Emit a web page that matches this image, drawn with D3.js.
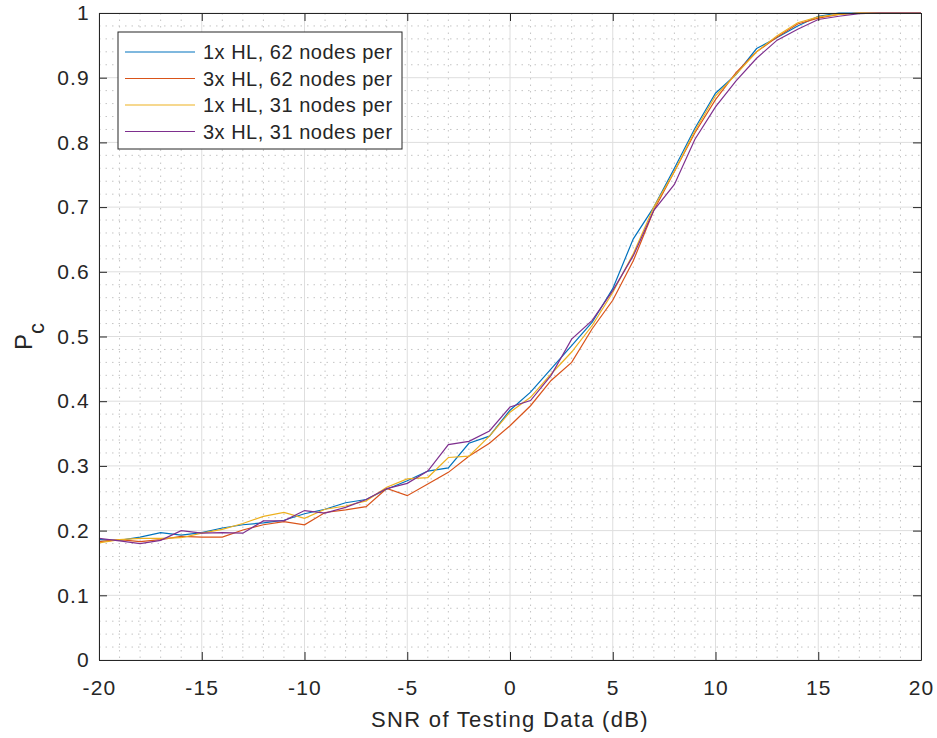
<!DOCTYPE html>
<html>
<head>
<meta charset="utf-8">
<script src="https://cdn.jsdelivr.net/npm/d3@7"></script>
<style>
  body { margin: 0; background: #fff; }
  svg { display: block; font-family: "Liberation Sans", Arial, sans-serif; }
</style>
</head>
<body>
<div id="chart"></div>
<script>
// SNR steps (dB)
const snr = d3.range(-20, 21);

const seriesNames = [
  "1x HL, 62 nodes per",
  "3x HL, 62 nodes per",
  "1x HL, 31 nodes per",
  "3x HL, 31 nodes per"
];
const seriesColors = ["#0072BD", "#D95319", "#EDB120", "#7E2F8E"];

const hl1n62 = [0.186, 0.185, 0.190, 0.197, 0.193, 0.197, 0.204, 0.209, 0.212, 0.216,
  0.226, 0.233, 0.243, 0.248, 0.264, 0.277, 0.292, 0.297, 0.335, 0.346,
  0.386, 0.414, 0.450, 0.486, 0.522, 0.574, 0.651, 0.700, 0.760, 0.822,
  0.876, 0.905, 0.945, 0.962, 0.980, 0.995, 1, 1, 1, 1, 1];
const hl3n62 = [0.183, 0.186, 0.183, 0.186, 0.191, 0.190, 0.190, 0.201, 0.209, 0.214,
  0.209, 0.228, 0.232, 0.237, 0.265, 0.254, 0.272, 0.290, 0.315, 0.335,
  0.362, 0.393, 0.432, 0.460, 0.512, 0.556, 0.617, 0.695, 0.755, 0.815,
  0.866, 0.908, 0.940, 0.963, 0.983, 0.992, 0.998, 1, 1, 1, 1];
const hl1n31 = [0.181, 0.186, 0.188, 0.188, 0.189, 0.196, 0.202, 0.211, 0.222, 0.228,
  0.219, 0.233, 0.238, 0.246, 0.267, 0.280, 0.282, 0.313, 0.315, 0.346,
  0.383, 0.406, 0.442, 0.476, 0.517, 0.568, 0.628, 0.700, 0.755, 0.818,
  0.872, 0.905, 0.940, 0.965, 0.985, 0.994, 0.998, 1, 1, 1, 1];
const hl3n31 = [0.188, 0.184, 0.180, 0.185, 0.200, 0.196, 0.197, 0.196, 0.215, 0.215,
  0.231, 0.227, 0.236, 0.248, 0.265, 0.273, 0.292, 0.333, 0.338, 0.354,
  0.391, 0.401, 0.440, 0.496, 0.525, 0.571, 0.625, 0.695, 0.735, 0.805,
  0.855, 0.895, 0.930, 0.958, 0.975, 0.990, 0.995, 0.999, 1, 1, 1];

const allSeries = [hl1n62, hl3n62, hl1n31, hl3n31];

const xTicks = d3.range(-20, 21, 5);
const yTicks = d3.range(0, 11).map(i => i / 10);

const W = 937, H = 738;
const margin = { top: 13, right: 16, bottom: 78, left: 99 };
const width = W - margin.left - margin.right,
      height = H - margin.top - margin.bottom;

const svg = d3.select("#chart").append("svg")
  .attr("width", W)
  .attr("height", H);

const g = svg.append("g")
  .attr("transform", `translate(${margin.left},${margin.top})`);

const x = d3.scaleLinear().domain([-20, 20]).range([0, width]);
const y = d3.scaleLinear().domain([0, 1]).range([height, 0]);

// minor grid (dotted)
const minorX = d3.range(-20, 21, 1).filter(v => v % 5 !== 0);
const minorY = d3.range(0, 51).filter(i => i % 5 !== 0).map(i => i * 0.02);

g.append("g").selectAll("line")
  .data(minorX)
  .enter().append("line")
  .attr("x1", d => x(d)).attr("x2", d => x(d))
  .attr("y1", 0).attr("y2", height)
  .attr("stroke", "#c4c4c4")
  .attr("stroke-width", 1)
  .attr("stroke-dasharray", "1.5,5");

g.append("g").selectAll("line")
  .data(minorY)
  .enter().append("line")
  .attr("x1", 0).attr("x2", width)
  .attr("y1", d => y(d)).attr("y2", d => y(d))
  .attr("stroke", "#c4c4c4")
  .attr("stroke-width", 1)
  .attr("stroke-dasharray", "1.5,5");

// major grid
g.append("g").selectAll("line")
  .data(xTicks)
  .enter().append("line")
  .attr("x1", d => x(d)).attr("x2", d => x(d))
  .attr("y1", 0).attr("y2", height)
  .attr("stroke", "#dedede")
  .attr("stroke-width", 1);

g.append("g").selectAll("line")
  .data(yTicks)
  .enter().append("line")
  .attr("x1", 0).attr("x2", width)
  .attr("y1", d => y(d)).attr("y2", d => y(d))
  .attr("stroke", "#dedede")
  .attr("stroke-width", 1);

// lines
const line = d3.line()
  .x((d, i) => x(snr[i]))
  .y(d => y(d));

allSeries.forEach((vals, i) => {
  g.append("path")
    .datum(vals)
    .attr("fill", "none")
    .attr("stroke", seriesColors[i])
    .attr("stroke-width", 1.2)
    .attr("d", line);
});

// axes (ticks inward, MATLAB style)
const axisColor = "#262626";
const fmt = d => String(+d.toFixed(1));

const xAxis = g.append("g")
  .attr("transform", `translate(0,${height})`)
  .call(d3.axisBottom(x).tickValues(xTicks).tickFormat(fmt).tickSizeInner(-8).tickSizeOuter(0).tickPadding(20));
const yAxis = g.append("g")
  .call(d3.axisLeft(y).tickValues(yTicks).tickFormat(fmt).tickSizeInner(-8).tickSizeOuter(0).tickPadding(9));

[xAxis, yAxis].forEach(a => {
  a.select(".domain").attr("stroke", axisColor);
  a.selectAll(".tick line").attr("stroke", axisColor);
  a.selectAll(".tick text")
    .attr("fill", axisColor)
    .style("font-size", "21px")
    .style("letter-spacing", "1.2px")
    .style("font-family", "'Liberation Sans', Arial, sans-serif");
});

// top and right ticks + box
const topAxis = g.append("g")
  .call(d3.axisTop(x).tickValues(xTicks).tickSizeInner(-8).tickSizeOuter(0).tickFormat(""));
const rightAxis = g.append("g")
  .attr("transform", `translate(${width},0)`)
  .call(d3.axisRight(y).tickValues(yTicks).tickSizeInner(-8).tickSizeOuter(0).tickFormat(""));
[topAxis, rightAxis].forEach(a => {
  a.select(".domain").attr("stroke", axisColor);
  a.selectAll(".tick line").attr("stroke", axisColor);
});

// axis labels
svg.append("text")
  .attr("x", margin.left + width / 2)
  .attr("y", 727)
  .attr("text-anchor", "middle")
  .attr("fill", axisColor)
  .style("font-size", "22px")
  .style("letter-spacing", "1.3px")
  .text("SNR of Testing Data (dB)");

const yl = svg.append("text")
  .attr("transform", `translate(32,${margin.top + height / 2}) rotate(-90)`)
  .attr("text-anchor", "middle")
  .attr("fill", axisColor)
  .style("font-size", "24px");
yl.append("tspan").text("P");
yl.append("tspan").attr("dy", 12).style("font-size", "22px").text("c");

// legend
const legend = svg.append("g").attr("transform", "translate(118,32)");
legend.append("rect")
  .attr("width", 284)
  .attr("height", 117)
  .attr("fill", "#fff")
  .attr("stroke", axisColor)
  .attr("stroke-width", 1);

seriesNames.forEach((name, i) => {
  const yy = 20 + i * 26.5;
  legend.append("line")
    .attr("x1", 7).attr("x2", 77)
    .attr("y1", yy).attr("y2", yy)
    .attr("stroke", seriesColors[i])
    .attr("stroke-width", 1.2);
  legend.append("text")
    .attr("x", 85)
    .attr("y", yy + 7)
    .attr("fill", axisColor)
    .style("font-size", "20px")
    .style("letter-spacing", "0.5px")
    .text(name);
});
</script>
</body>
</html>
